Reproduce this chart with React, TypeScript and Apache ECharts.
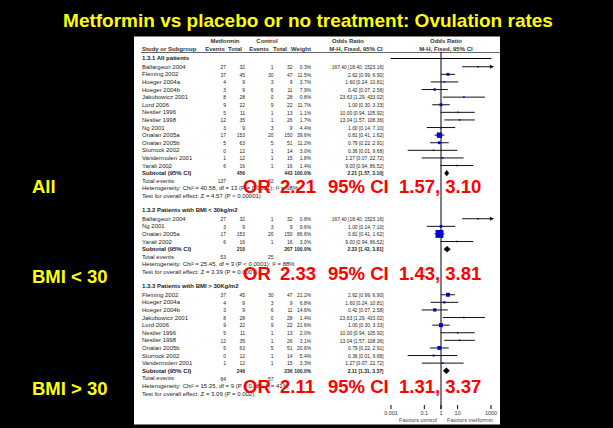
import React, { useEffect, useRef } from "react";
import * as echarts from "echarts";

// Study-level results
const studies = [
  "Ballargeon 2004", "Fleming 2002", "Hoeger 2004a", "Hoeger 2004b", "Jakubowicz 2001",
  "Lord 2006", "Nestler 1996", "Nestler 1998", "Ng 2001", "Onalan 2005a",
  "Onalan 2005b", "Sturrock 2002", "Vandermolen 2001", "Yarali 2002",
];
const metforminEvents = [27, 37, 4, 3, 8, 9, 5, 12, 3, 17, 5, 0, 1, 6];
const metforminTotal = [32, 45, 9, 9, 28, 22, 11, 35, 9, 153, 63, 12, 12, 16];
const controlEvents = [1, 30, 3, 6, 0, 9, 1, 1, 3, 20, 5, 1, 1, 1];
const controlTotal = [32, 47, 9, 11, 28, 22, 13, 26, 9, 150, 51, 14, 15, 16];
const oddsRatio = [167.4, 2.62, 1.6, 0.42, 23.63, 1.0, 10.0, 13.04, 1.0, 0.81, 0.79, 0.36, 1.27, 9.0];
const ciLower = [18.4, 0.99, 0.24, 0.07, 1.29, 0.3, 0.94, 1.57, 0.14, 0.41, 0.22, 0.01, 0.07, 0.94];
const ciUpper = [1523.16, 6.9, 10.81, 2.58, 433.02, 3.33, 105.92, 108.36, 7.1, 1.62, 2.91, 9.68, 22.72, 86.52];

// Subgroups
const subgroupTitles = [
  "1.3.1 All patients",
  "1.3.2 Patients with BMI < 30kg/m2",
  "1.3.3 Patients with BMI > 30Kg/m2",
];
const subgroupLabels = ["All", "BMI < 30", "BMI > 30"];
const subgroupMembers = [
  [0, 1, 2, 3, 4, 5, 6, 7, 8, 9, 10, 11, 12, 13],
  [0, 8, 9, 13],
  [1, 2, 3, 4, 5, 6, 7, 10, 11, 12],
];
const subgroupWeights = [
  [0.3, 11.5, 3.7, 7.9, 0.8, 11.7, 1.1, 1.7, 4.4, 39.6, 11.2, 3.0, 1.8, 1.4],
  [0.8, 9.6, 86.6, 3.0],
  [21.2, 6.8, 14.6, 1.4, 21.6, 2.0, 3.1, 20.6, 5.4, 3.3],
];
const pooledOR = [2.21, 2.33, 2.11];
const pooledLower = [1.57, 1.43, 1.31];
const pooledUpper = [3.1, 3.81, 3.37];
const heterogeneity = [
  "Heterogeneity: Chi\u00b2 = 40.58, df = 13 (P = 0.0001); I\u00b2 = 68%",
  "Heterogeneity: Chi\u00b2 = 25.45, df = 3 (P < 0.0001); I\u00b2 = 88%",
  "Heterogeneity: Chi\u00b2 = 15.35, df = 9 (P = 0.08); I\u00b2 = 41%",
];
const overallEffect = [
  "Test for overall effect: Z = 4.57 (P < 0.00001)",
  "Test for overall effect: Z = 3.39 (P = 0.0007)",
  "Test for overall effect: Z = 3.09 (P = 0.002)",
];

// Odds-ratio axis
const axisTicks = [0.001, 0.1, 1, 10, 1000];
const axisTickLabels = ["0.001", "0.1", "1", "10", "1000"];
const noEffect = 1;
const axisMin = 0.001;
const axisMax = 1000;

const TITLE = "Metformin vs placebo or no treatment: Ovulation rates";
const FONT = "'Liberation Sans', Arial, Helvetica, sans-serif";
const INK = "#222";
const SMALL = 6;
const NUM_SQUEEZE = 0.82;

// Table layout: slot units along the y axis
type Row = {
  kind: "heading" | "study" | "subtotal" | "events" | "note";
  slot: number;
  group: number;
  study?: number;
  pos?: number;
  text?: string;
};

function buildRows(): Row[] {
  const rows: Row[] = [];
  let slot = 0;
  subgroupTitles.forEach((title, g) => {
    rows.push({ kind: "heading", slot, group: g, text: title });
    const members = subgroupMembers[g];
    members.forEach((s, k) => rows.push({ kind: "study", slot: slot + 1.15 + k, group: g, study: s, pos: k }));
    const sub = slot + 1.15 + members.length;
    rows.push({ kind: "subtotal", slot: sub, group: g });
    rows.push({ kind: "events", slot: sub + 1, group: g });
    rows.push({ kind: "note", slot: sub + 2, group: g, text: heterogeneity[g] });
    rows.push({ kind: "note", slot: sub + 3, group: g, text: overallEffect[g] });
    slot = sub + 3 + 1.85;
  });
  return rows;
}

const sum = (idx: number[], arr: number[]) => idx.reduce((a, i) => a + arr[i], 0);
const ciText = (or: number, lo: number, hi: number) => `${or.toFixed(2)} [${lo.toFixed(2)}, ${hi.toFixed(2)}]`;

const COL = { name: 142, metEv: 226, metTot: 245, ctlEv: 273.5, ctlTot: 292.5, weight: 311, or: 383.5 };

function txt(x: number, y: number, text: string, align: string, bold = false, size = SMALL, fill = INK, scaleX = 1) {
  return {
    type: "text",
    x,
    y,
    scaleX,
    style: {
      text,
      fill,
      fontSize: size,
      fontFamily: FONT,
      fontWeight: bold ? "bold" : "normal",
      align,
      verticalAlign: "middle",
      textAlign: align,
      textVerticalAlign: "middle",
    },
  };
}

// numeric table cell, slightly condensed
const num = (x: number, y: number, text: string, bold = false) => txt(x, y, text, "right", bold, SMALL, INK, NUM_SQUEEZE);

export default function App() {
  const ref = useRef<HTMLDivElement>(null);

  useEffect(() => {
    if (!ref.current) return;
    const chart = echarts.init(ref.current, undefined, { renderer: "svg" });
    const rows = buildRows();

    const renderRow = (params: any, api: any) => {
      const r = rows[params.dataIndex];
      const y = api.coord([noEffect, r.slot])[1];
      const children: any[] = [];
      const g = r.group;
      if (r.kind === "heading") {
        children.push(txt(COL.name, y, r.text!, "left", true));
      } else if (r.kind === "study") {
        const s = r.study!;
        const w = subgroupWeights[g][r.pos!];
        children.push(txt(COL.name, y, studies[s], "left"));
        children.push(num(COL.metEv, y, String(metforminEvents[s])));
        children.push(num(COL.metTot, y, String(metforminTotal[s])));
        children.push(num(COL.ctlEv, y, String(controlEvents[s])));
        children.push(num(COL.ctlTot, y, String(controlTotal[s])));
        children.push(num(COL.weight, y, `${w.toFixed(1)}%`));
        children.push(num(COL.or, y, ciText(oddsRatio[s], ciLower[s], ciUpper[s])));
        const hiClamped = Math.min(ciUpper[s], axisMax);
        const loClamped = Math.max(ciLower[s], axisMin);
        const pLo = api.coord([loClamped, r.slot]);
        const pHi = api.coord([hiClamped, r.slot]);
        children.push({
          type: "line",
          shape: { x1: pLo[0], y1: y, x2: pHi[0], y2: y },
          style: { stroke: "#111", lineWidth: 1 },
        });
        if (ciUpper[s] > axisMax) {
          children.push({
            type: "polygon",
            shape: { points: [[pHi[0] - 1, y - 2], [pHi[0] + 3, y], [pHi[0] - 1, y + 2]] },
            style: { fill: "#111" },
          });
        }
        const c = api.coord([oddsRatio[s], r.slot]);
        const size = Math.max(1.6, 8.5 * Math.sqrt(w / 100));
        children.push({
          type: "rect",
          shape: { x: c[0] - size / 2, y: y - size / 2, width: size, height: size },
          style: { fill: "#0000cc" },
        });
      } else if (r.kind === "subtotal") {
        const m = subgroupMembers[g];
        children.push(txt(COL.name, y, "Subtotal (95% CI)", "left", true));
        children.push(num(COL.metTot, y, String(sum(m, metforminTotal)), true));
        children.push(num(COL.ctlTot, y, String(sum(m, controlTotal)), true));
        children.push(num(COL.weight, y, "100.0%", true));
        children.push(num(COL.or, y, ciText(pooledOR[g], pooledLower[g], pooledUpper[g]), true));
        const lo = api.coord([pooledLower[g], r.slot])[0];
        const mid = api.coord([pooledOR[g], r.slot])[0];
        const hi = api.coord([pooledUpper[g], r.slot])[0];
        children.push({
          type: "polygon",
          shape: { points: [[lo, y], [mid, y - 3.2], [hi, y], [mid, y + 3.2]] },
          style: { fill: "#000" },
        });
      } else if (r.kind === "events") {
        const m = subgroupMembers[g];
        children.push(txt(COL.name, y, "Total events", "left"));
        children.push(num(COL.metEv, y, String(sum(m, metforminEvents))));
        children.push(num(COL.ctlEv, y, String(sum(m, controlEvents))));
      } else {
        children.push(txt(COL.name, y, r.text!, "left"));
      }
      return { type: "group", children };
    };

    const renderTick = (params: any, api: any) => {
      const v = axisTicks[params.dataIndex];
      const p = api.coord([v, 46]);
      return {
        type: "group",
        children: [
          { type: "line", shape: { x1: p[0], y1: p[1] - 2.5, x2: p[0], y2: p[1] + 1.5 }, style: { stroke: "#000", lineWidth: 1 } },
          txt(p[0], p[1] + 5, axisTickLabels[params.dataIndex], "center", false, 5.5, "#333"),
        ],
      };
    };

    const renderNoEffect = (params: any, api: any) => {
      const top = api.coord([noEffect, -0.8]);
      const bottom = api.coord([noEffect, 46]);
      return {
        type: "line",
        shape: { x1: top[0], y1: top[1], x2: bottom[0], y2: bottom[1] + 1.5 },
        style: { stroke: "#000", lineWidth: 1 },
      };
    };

    const header = (x: number, y: number, t: string, align = "center") => txt(x, y, t, align, true, SMALL, "#333");

    const redPieces = (g: number, y: number) => [
      { x: 243, t: "OR" },
      { x: 280, t: pooledOR[g].toFixed(2) },
      { x: 328, t: "95% CI" },
      { x: 399, t: `${pooledLower[g].toFixed(2)}, ${pooledUpper[g].toFixed(2)}` },
    ].map((p) => ({ ...txt(p.x, y, p.t, "left", true, 18.5, "#ff0000"), z: 20 }));

    const redY = [186, 273, 386];
    const yellowY = [186, 276, 388];

    chart.setOption({
      animation: false,
      backgroundColor: "#000",
      textStyle: { fontFamily: FONT },
      grid: { left: 391, width: 100, top: 50.4, height: 357.2, containLabel: false },
      xAxis: {
        type: "log",
        logBase: 10,
        min: axisMin,
        max: axisMax,
        axisLine: { show: true, lineStyle: { color: "#000", width: 1 } },
        axisTick: { show: false },
        axisLabel: { show: false },
        splitLine: { show: false },
      },
      yAxis: { type: "value", min: -1, max: 46, inverse: true, show: false },
      graphic: [
        { type: "rect", shape: { x: 134, y: 36.5, width: 366, height: 388 }, style: { fill: "#fff" }, z: -10 },
        txt(308, 20, TITLE, "center", true, 19, "#ffff00"),
        header(225, 40.7, "Metformin"),
        header(267, 40.7, "Control"),
        header(348, 40.7, "Odds Ratio"),
        header(446, 40.7, "Odds Ratio"),
        header(COL.name, 49, "Study or Subgroup", "left"),
        header(215, 49, "Events"),
        header(235, 49, "Total"),
        header(259, 49, "Events"),
        header(280, 49, "Total"),
        header(301, 49, "Weight"),
        header(356, 49, "M-H, Fixed, 95% CI"),
        header(446, 49, "M-H, Fixed, 95% CI"),
        { type: "line", shape: { x1: 141, y1: 52.5, x2: 500, y2: 52.5 }, style: { stroke: "#666", lineWidth: 1 } },
        txt(418, 419.5, "Favours control", "center", false, 5.5, "#444"),
        txt(470, 419.5, "Favours metformin", "center", false, 5.5, "#444"),
        ...subgroupLabels.map((l, g) => txt(32, yellowY[g], l, "left", true, 18.5, "#ffff00")),
        ...redPieces(0, redY[0]),
        ...redPieces(1, redY[1]),
        ...redPieces(2, redY[2]),
      ],
      series: [
        {
          type: "custom",
          name: "no effect",
          clip: false,
          silent: true,
          data: [[noEffect, 0]],
          renderItem: renderNoEffect,
          z: 3,
        },
        {
          type: "custom",
          name: "forest",
          clip: false,
          silent: true,
          data: rows.map((r) => [noEffect, r.slot]),
          renderItem: renderRow,
          z: 4,
        },
        {
          type: "custom",
          name: "ticks",
          clip: false,
          silent: true,
          data: axisTicks.map((v) => [v, 46]),
          renderItem: renderTick,
          z: 4,
        },
      ],
    });

    return () => chart.dispose();
  }, []);

  return <div ref={ref} style={{ position: "fixed", left: 0, top: 0, width: 613, height: 428 }} />;
}
